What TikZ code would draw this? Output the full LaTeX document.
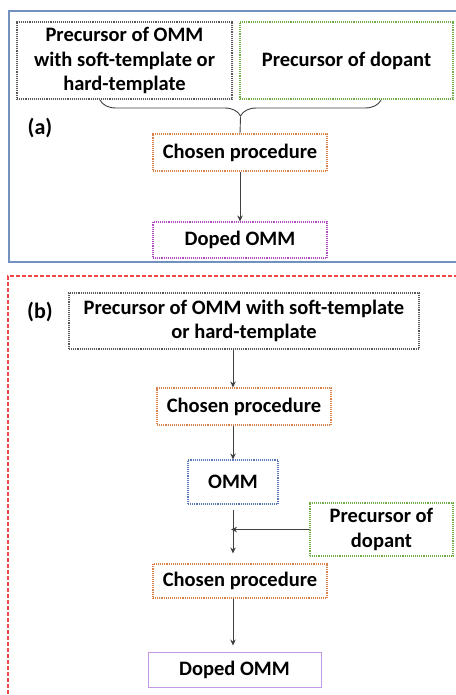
\documentclass[tikz,border=0pt]{standalone}
\usepackage{fontspec}
\setmainfont{Carlito}
\usetikzlibrary{arrows.meta, decorations.pathreplacing}
\definecolor{framea}{HTML}{7391C0}
\definecolor{frameb}{HTML}{F04848}
\definecolor{dotgray}{HTML}{585858}
\definecolor{dotgreen}{HTML}{70AD47}
\definecolor{dotorange}{HTML}{D9824A}
\definecolor{dotmagenta}{HTML}{B04CC0}
\definecolor{dotblue}{HTML}{5A78B8}
\definecolor{lavender}{HTML}{C49AE6}

\begin{document}
\begin{tikzpicture}[
  x=1pt, y=-1pt,
  every node/.style={font=\fontsize{20.5}{24.5}\selectfont\bfseries, align=center, inner sep=0pt},
  box/.style={draw=#1, densely dotted, line width=1.1pt},
  label/.style={font=\fontsize{22}{24}\selectfont\bfseries},
  arr/.style={-{Stealth[length=6pt,width=5.5pt]}, line width=0.9pt, black!75}
]
\useasboundingbox (0,0) rectangle (455,695);

% panel (a)
\draw[framea, line width=1.2pt] (470,11) -| (9,262) -- (470,262);
\node[label] (la) at (40,128) {(a)};
\node[box=dotgray, minimum width=215pt, minimum height=77pt] (a1) at (124.5,60.5)
  {Precursor of OMM\\with soft-template or\\hard-template};
\node[box=dotgreen, minimum width=213pt, minimum height=77pt] (a2) at (346.5,60.5)
  {Precursor of dopant};
\node[box=dotorange, minimum width=174pt, minimum height=37pt] (a3) at (240,152.5)
  {Chosen procedure};
\node[box=dotmagenta, minimum width=174pt, minimum height=36pt] (a4) at (240,240)
  {Doped OMM};
\coordinate (bl) at (100,100);
\coordinate (br) at (381,100);
\coordinate (bt) at (240.5,117);
\draw[decorate, decoration={brace, mirror, amplitude=16pt}, line width=0.9pt, black!75]
  (bl) -- (br);
\draw[line width=0.9pt, black!75] (bt) -- (a3.north);
\draw[arr] (a3) -- (a4);

% panel (b)
\draw[frameb, dash pattern=on 4pt off 2pt, line width=1.2pt] (470,276) -| (8,710);
\node[label] (lb) at (40,312) {(b)};
\node[box=dotgray, minimum width=350pt, minimum height=56pt] (b1) at (244,321)
  {Precursor of OMM with soft-template\\or hard-template};
\node[box=dotorange, minimum width=174pt, minimum height=37pt] (b2) at (244,406.5)
  {Chosen procedure};
\node[box=dotblue, minimum width=90pt, minimum height=44pt] (b3) at (233,482)
  {OMM};
\node[box=dotgreen, minimum width=143pt, minimum height=53pt] (b5) at (381.5,529.5)
  {Precursor of\\dopant};
\node[box=dotorange, minimum width=174pt, minimum height=34pt] (b4) at (240,581)
  {Chosen procedure};
\node[draw=lavender, line width=0.9pt, minimum width=173pt, minimum height=35pt] (b6) at (234.5,669.5)
  {Doped OMM};
\draw[arr] (b1.south -| b3) -- (b2.north -| b3);
\draw[arr] (b2.south -| b3) -- (b3.north);
\draw[arr, shorten <=5pt, shorten >=10pt] (b3.south) -- (b4.north -| b3);
\draw[arr, shorten >=-2pt] (b5.west) -- (b5.west -| b3);
\draw[arr, shorten >=6pt] (b4.south -| b3) -- (b6.north -| b3);
\end{tikzpicture}
\end{document}
